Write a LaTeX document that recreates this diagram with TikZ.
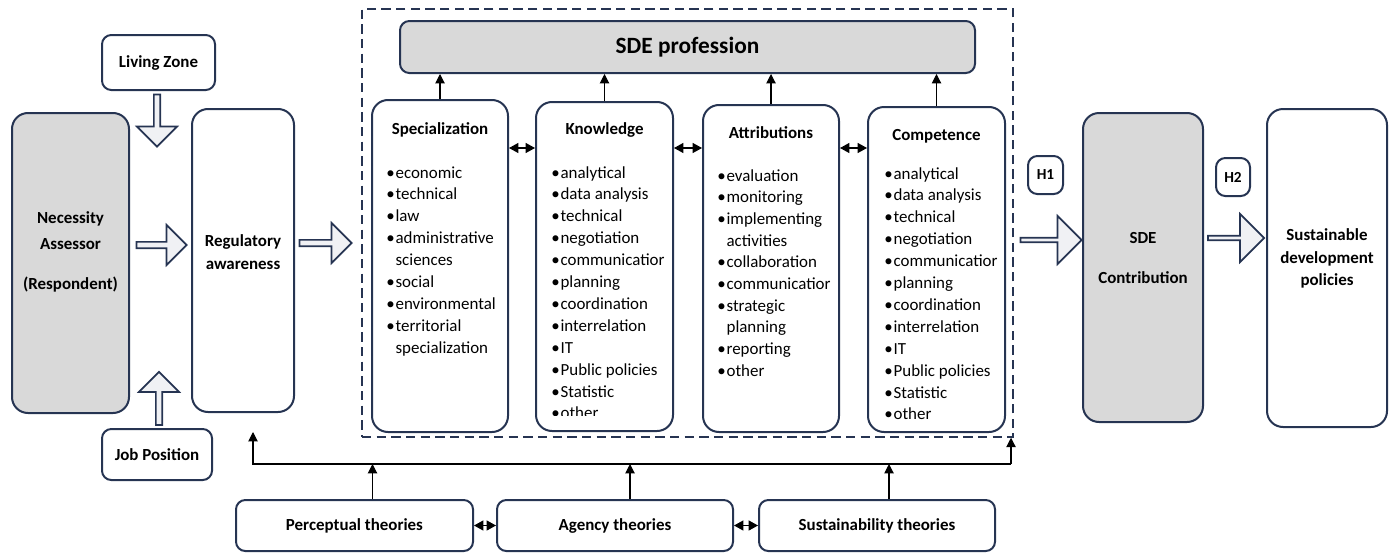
\documentclass[tikz,border=0pt]{standalone}
\usepackage{fontspec}
\setmainfont{Carlito}
\usetikzlibrary{arrows.meta,shapes.arrows}
\definecolor{navy}{RGB}{38,52,82}
\definecolor{boxgray}{RGB}{217,217,217}
\definecolor{arrgray}{RGB}{240,241,244}
\newcommand\bul{\makebox[7pt][l]{\textbullet}}
\newcommand\ind{\hspace*{7pt}}

\begin{document}
\begin{tikzpicture}[x=0.75pt,y=-0.75pt,
	box/.style={draw=navy,line width=1.5pt,rounded corners=12pt,inner sep=0pt},
	smallbox/.style={draw=navy,line width=1.5pt,rounded corners=7pt,inner sep=0pt},
	grey/.style={fill=boxgray},
	title/.style={font=\bfseries\fontsize{12.7}{17}\selectfont,inner sep=0pt,align=center},
	item/.style={font=\fontsize{12.7}{15}\selectfont,inner sep=0pt,anchor=base west},
	blk/.style={single arrow,draw=navy,fill=arrgray,line width=1.3pt,minimum width=30pt,
		single arrow head extend=3.5pt,inner sep=0pt},
	bigblk/.style={blk,minimum width=36pt,single arrow head extend=6.5pt},
	tip/.style={-{Triangle[length=7pt,width=7pt]},line width=0.8pt},
	dbl/.style={{Triangle[length=7pt,width=7.5pt]}-{Triangle[length=7pt,width=7.5pt]},line width=0.8pt},
	frame/.style={draw=navy,line width=1.1pt,dash pattern=on 7pt off 4pt,inner sep=0pt}]
	\useasboundingbox (0,0) rectangle (1394,553);

	% left side
	\node[smallbox,minimum width=84.75pt,minimum height=41.25pt] (liv) at (158.5,62.5) {};
	\node[title] (livtxt) at (158.5,62.5) {Living Zone};
	\node[box,grey,minimum width=87.75pt,minimum height=225pt] (nec) at (70.5,263) {};
	\node[title] (nectxt) at (70.5,252) {Necessity\\[3pt]Assessor\\[13pt](Respondent)};
	\node[box,minimum width=76.5pt,minimum height=227.25pt] (reg) at (243,260.5) {};
	\node[title] (regtxt) at (243,252) {Regulatory\\awareness};
	\node[smallbox,minimum width=82.5pt,minimum height=38.25pt] (job) at (157,454.5) {};
	\node[title] (jobtxt) at (157,454.5) {Job Position};
	\node[blk,minimum height=39pt,rotate=-90] (livarr) at (157,119) {};
	\node[blk,minimum height=39.75pt,rotate=90] (jobarr) at (159,400) {};
	\node[blk,minimum height=37.5pt] (necarr) at (160,245) {};
	\node[blk,minimum height=39pt] (regarr) at (324,243) {};

	% profession block
	\node[frame,minimum width=488.25pt,minimum height=321pt] (prof) at (687.5,223) {};
	\node[smallbox,grey,minimum width=431.25pt,minimum height=39pt] (sde) at (687.5,47) {};
	\node[title,font=\bfseries\fontsize{17.5}{20}\selectfont] (sdetxt) at (687.5,47) {SDE profession};
	\node[box,minimum width=102pt,minimum height=249pt] (spec) at (440,266) {};
	\node[box,minimum width=102.75pt,minimum height=246.75pt] (know) at (604.5,266.5) {};
	\node[box,minimum width=102pt,minimum height=245.25pt] (attr) at (771,268.5) {};
	\node[box,minimum width=102.75pt,minimum height=243.75pt] (comp) at (936.5,269.5) {};
	\node[title,anchor=base] (spectxt) at (440,134) {Specialization};
	\node[title,anchor=base] (knowtxt) at (604.5,134) {Knowledge};
	\node[title,anchor=base] (attrtxt) at (771,138) {Attributions};
	\node[title,anchor=base] (comptxt) at (936.5,140) {Competence};

	\foreach \t [count=\i] in {\bul economic,\bul technical,\bul law,\bul administrative,\ind sciences,
		\bul social,\bul environmental,\bul territorial,\ind specialization}
		\node[item] (spec-\i) at (386,{178+21.9*(\i-1)}) {\t};
	\begin{scope}
		\clip (536,102) rectangle (673,415);
		\foreach \t [count=\i] in {analytical,data analysis,technical,negotiation,communicatior,planning,
			coordination,interrelation,IT,Public policies,Statistic,other}
			\node[item] (know-\i) at (551,{178+21.9*(\i-1)}) {\bul\t};
	\end{scope}
	\foreach \t [count=\i] in {\bul evaluation,\bul monitoring,\bul implementing,\ind activities,
		\bul collaboration,\bul communicatior,\bul strategic,\ind planning,\bul reporting,\bul other}
		\node[item] (attr-\i) at (717,{181+21.7*(\i-1)}) {\t};
	\foreach \t [count=\i] in {analytical,data analysis,technical,negotiation,communicatior,planning,
		coordination,interrelation,IT,Public policies,Statistic,other}
		\node[item] (comp-\i) at (884,{179+21.9*(\i-1)}) {\bul\t};

	\coordinate (row) at (0,148);
	\foreach \b in {spec,know,attr,comp}
		\draw[tip] (\b.north) -- (\b.north |- sde.south);
	\draw[dbl] (spec.east |- row) -- (know.west |- row);
	\draw[dbl] (know.east |- row) -- (attr.west |- row);
	\draw[dbl] (attr.east |- row) -- (comp.west |- row);

	% theories
	\node[smallbox,minimum width=177.75pt,minimum height=38.25pt] (per) at (354.5,525.5) {};
	\node[title] (pertxt) at (354.5,525.5) {Perceptual theories};
	\node[smallbox,minimum width=177pt,minimum height=38.25pt] (age) at (615,525.5) {};
	\node[title] (agetxt) at (615,525.5) {Agency theories};
	\node[smallbox,minimum width=177pt,minimum height=38.25pt] (sus) at (877,525.5) {};
	\node[title] (sustxt) at (877,525.5) {Sustainability theories};
	\draw[dbl] (per.east) -- (age.west);
	\draw[dbl] (age.east) -- (sus.west);

	\coordinate (busL) at (253,464);
	\coordinate (busR) at (1011,464);
	\coordinate (regin) at (253,432);
	\draw[tip] (busR) -- (busL) -- (regin);
	\draw[tip] (busR) -- (busR |- prof.south);
	\draw[tip] ([xshift=13.5pt]per.north) -- ([xshift=13.5pt]per.north |- busL);
	\draw[tip] ([xshift=11.25pt]age.north) -- ([xshift=11.25pt]age.north |- busL);
	\draw[tip] ([xshift=9pt]sus.north) -- ([xshift=9pt]sus.north |- busL);

	% right side
	\node[smallbox,minimum width=26.25pt,minimum height=28.5pt] (h1) at (1045.5,175) {};
	\node[title,font=\bfseries\fontsize{11.5}{13}\selectfont] (h1txt) at (1045.5,175) {H1};
	\node[smallbox,minimum width=25.5pt,minimum height=28.5pt] (h2) at (1233,177) {};
	\node[title,font=\bfseries\fontsize{11.5}{13}\selectfont] (h2txt) at (1233,177) {H2};
	\node[bigblk,minimum height=45.75pt] (h1arr) at (1050,240) {};
	\node[bigblk,minimum height=42pt] (h2arr) at (1235,238) {};
	\node[box,grey,minimum width=90pt,minimum height=231.75pt] (con) at (1143,267.5) {};
	\node[title] (contxt) at (1143,258) {SDE\\[13pt]Contribution};
	\node[box,minimum width=90pt,minimum height=238.5pt] (pol) at (1327,268) {};
	\node[title] (poltxt) at (1327,258.5) {Sustainable\\development\\policies};
\end{tikzpicture}
\end{document}
